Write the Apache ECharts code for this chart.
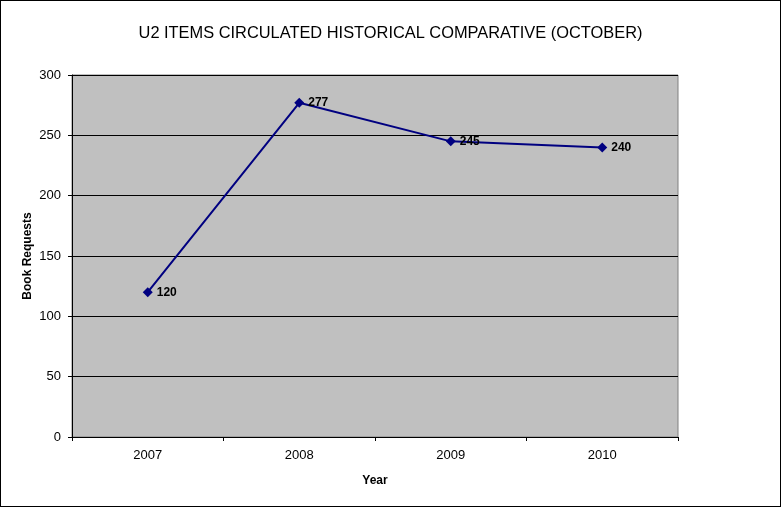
<!DOCTYPE html>
<html><head><meta charset="utf-8">
<script src="https://cdn.jsdelivr.net/npm/echarts@6/dist/echarts.min.js"></script>
<style>html,body{margin:0;padding:0;background:#fff}#c{width:781px;height:507px;box-sizing:border-box;border:1px solid #000}</style>
</head><body><div id="c"></div>
<script>
const categories = ['2007','2008','2009','2010'];
const bookRequests = [120, 277, 245, 240];
const yTicks = [0, 50, 100, 150, 200, 250, 300];

const chart = echarts.init(document.getElementById('c'));
chart.setOption({
  animation: false,
  backgroundColor: '#fff',
  title: {
    text: 'U2 ITEMS CIRCULATED HISTORICAL COMPARATIVE (OCTOBER)',
    left: 'center', top: 19,
    textStyle: {fontFamily: 'Liberation Sans, Arial', fontSize: 16.4, fontWeight: 'normal', color: '#000'}
  },
  grid: {left: 71, right: 102, top: 74, bottom: 69, show: true, backgroundColor: '#C0C0C0', borderColor: '#808080', borderWidth: 1},
  xAxis: {
    type: 'category', data: categories, boundaryGap: true,
    name: 'Year', nameLocation: 'middle', nameGap: 38, nameMoveOverlap: false,
    nameTextStyle: {fontFamily: 'Liberation Sans, Arial', fontSize: 12, fontWeight: 'bold', color: '#000'},
    axisLine: {lineStyle: {color: '#000', width: 1}},
    axisTick: {show: true, inside: false, length: 4, lineStyle: {color: '#000'}},
    axisLabel: {fontFamily: 'Liberation Sans, Arial', fontSize: 13, color: '#000', margin: 12}
  },
  yAxis: {
    type: 'value', min: yTicks[0], max: yTicks[yTicks.length-1], interval: 50,
    name: 'Book Requests', nameLocation: 'middle', nameGap: 38, nameRotate: 90, nameMoveOverlap: false,
    nameTextStyle: {fontFamily: 'Liberation Sans, Arial', fontSize: 12, fontWeight: 'bold', color: '#000'},
    axisLine: {show: true, lineStyle: {color: '#000', width: 1}},
    axisTick: {show: true, inside: false, length: 4, lineStyle: {color: '#000'}},
    axisLabel: {fontFamily: 'Liberation Sans, Arial', fontSize: 13, color: '#000', margin: 11},
    splitLine: {show: true, lineStyle: {color: '#000', width: 1}}
  },
  series: [{
    type: 'line', data: bookRequests,
    symbol: 'diamond', symbolSize: 10,
    lineStyle: {color: '#000080', width: 2},
    itemStyle: {color: '#000080'},
    label: {show: true, position: 'right', distance: 4, fontFamily: 'Liberation Sans, Arial', fontSize: 12, fontWeight: 'bold', color: '#000'}
  }]
});
</script></body></html>
